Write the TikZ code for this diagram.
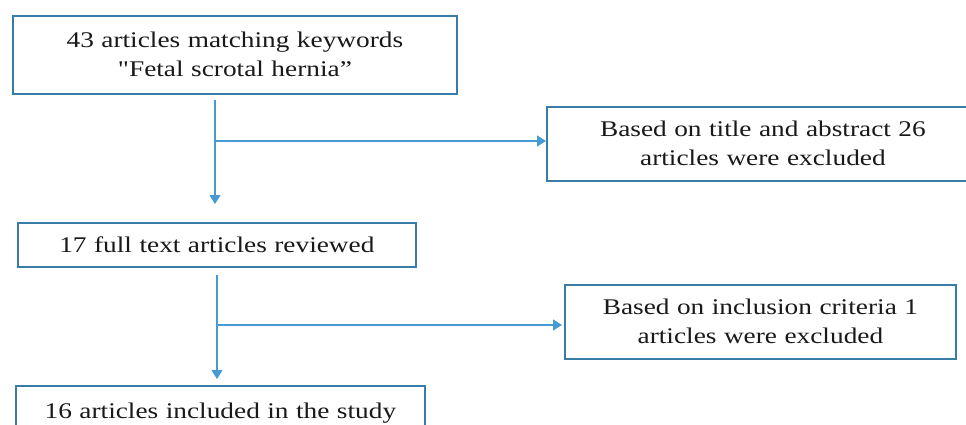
\documentclass[tikz,border=0pt]{standalone}
\usepackage{fontspec}
\setmainfont{Liberation Serif}[FakeStretch=1.22, Ligatures=TeXOff]
\usetikzlibrary{arrows.meta}
\definecolor{boxcol}{RGB}{55,125,165}
\definecolor{arrcol}{RGB}{70,155,210}
\begin{document}
\begin{tikzpicture}[x=1pt,y=-1pt,
  flowbox/.style={draw=boxcol, line width=1.8pt, fill=white, anchor=north west,
    inner sep=0pt, align=center, text=black!90,
    font=\fontsize{22.4}{29}\selectfont},
  twoline/.style={text height=15pt, text depth=29pt},
  oneline/.style={text height=15pt, text depth=0pt},
  conn/.style={draw=arrcol, line width=1.3pt, -{Triangle[length=9pt,width=11pt]}}]
\useasboundingbox (0,0) rectangle (966,424);
\clip (0,0) rectangle (966,424);
\fill[white] (0,0) rectangle (966,424);

\node[flowbox, twoline, minimum width=444pt, minimum height=78pt, text width=440pt] (box1) at (12,15)
  {43 articles matching keywords\\"Fetal scrotal hernia”};
\node[flowbox, twoline, minimum width=432pt, minimum height=74pt, text width=428pt] (box2) at (546,106)
  {Based on title and abstract 26\\articles were excluded};
\node[flowbox, oneline, minimum width=398pt, minimum height=44pt, text width=394pt] (box3) at (17,222)
  {17 full text articles reviewed};
\node[flowbox, twoline, minimum width=391pt, minimum height=74pt, text width=387pt] (box4) at (564,284)
  {Based on inclusion criteria 1\\articles were excluded};
\node[flowbox, oneline, minimum width=409pt, minimum height=50pt, text width=405pt] (box5) at (15,385)
  {16 articles included in the study};

\coordinate (j1) at (215,141);
\coordinate (j2) at (217,325);

\draw[conn, shorten <=5pt, shorten >=18pt] (j1 |- box1.south) -- (j1 |- box3.north);
\draw[conn] (j1) -- (j1 -| box2.west);
\draw[conn, shorten <=7pt, shorten >=6pt] (j2 |- box3.south) -- (j2 |- box5.north);
\draw[conn, shorten >=2pt] (j2) -- (j2 -| box4.west);
\end{tikzpicture}
\end{document}
